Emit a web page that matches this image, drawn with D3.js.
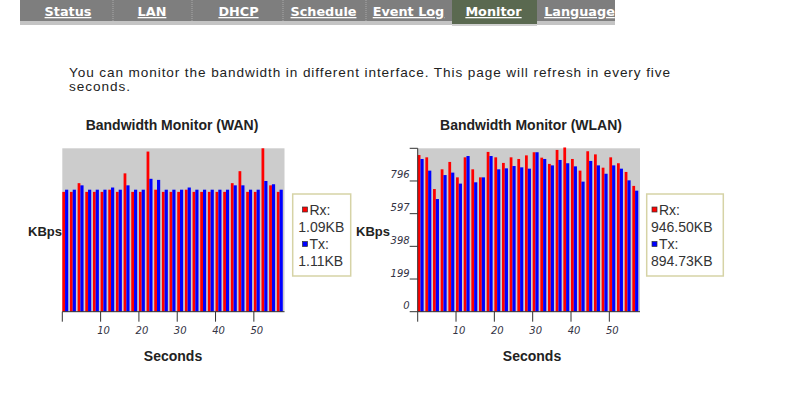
<!DOCTYPE html>
<html><head><meta charset="utf-8">
<script src="https://cdn.jsdelivr.net/npm/d3@7/dist/d3.min.js"></script>
<style>
html,body{margin:0;padding:0;background:#fff;}
svg{display:block;}
</style></head>
<body>
<svg id="c" width="785" height="393"></svg>
<script>
// ---- data ----
const navItems = ["Status","LAN","DHCP","Schedule","Event Log","Monitor","Language"];
const introText = ["You can monitor the bandwidth in different interface. This page will refresh in every five","seconds."];
const seconds = [0,2,4,6,8,10,12,14,16,18,20,22,24,26,28,30,32,34,36,38,40,42,44,46,48,50,52,54,56];
const wanRx = [1.10,1.10,1.18,1.10,1.10,1.10,1.12,1.10,1.27,1.10,1.10,1.47,1.12,1.10,1.10,1.10,1.12,1.10,1.10,1.10,1.10,1.10,1.18,1.29,1.10,1.10,1.50,1.16,1.10];
const wanTx = [1.12,1.12,1.16,1.12,1.12,1.12,1.14,1.12,1.16,1.12,1.12,1.22,1.21,1.12,1.12,1.12,1.14,1.12,1.12,1.12,1.12,1.12,1.16,1.16,1.12,1.12,1.20,1.17,1.12];
const wlanRx = [954,940,747,867,912,818,940,867,818,973,940,906,940,930,952,971,938,900,985,1000,930,859,977,958,877,940,904,851,766];
const wlanTx = [930,859,686,832,847,780,948,788,818,948,867,873,887,879,871,971,930,891,924,904,885,792,918,891,840,891,871,800,737];
const xTicks = [0,10,20,30,40,50];
const xTickLabels = ["","10","20","30","40","50"];
const wlanYTicks = [0,199,398,597,796,995];
const wlanYTickLabels = ["0","199","398","597","796",""];
const wanLegend = {rx:"1.09KB", tx:"1.11KB"};
const wlanLegend = {rx:"946.50KB", tx:"894.73KB"};

const svg = d3.select("#c");
const F = "'Liberation Sans', Arial, sans-serif";

// ---- nav bar ----
const navCenters = [68,152,238.5,323.5,408.5,493.5,579.5];
const navSeps = [113,192,283,366];
svg.append("rect").attr("x",20).attr("y",0).attr("width",595).attr("height",21).attr("fill","#7e7e7e");
svg.append("rect").attr("x",20).attr("y",21).attr("width",595).attr("height",4).attr("fill","#c4c4c4");
svg.append("rect").attr("x",452).attr("y",0).attr("width",85).attr("height",24).attr("fill","#5a6950");
svg.append("rect").attr("x",452).attr("y",24).attr("width",85).attr("height",2).attr("fill","#d0d0d0");
navSeps.forEach(x=>svg.append("line").attr("x1",x).attr("x2",x).attr("y1",0).attr("y2",21)
  .attr("stroke","#a8a8a8").attr("stroke-dasharray","1,1"));
navItems.forEach((t,i)=>{
  svg.append("text").attr("x",navCenters[i]).attr("y",16).attr("text-anchor","middle")
    .attr("font-family","'DejaVu Sans', Verdana, sans-serif").attr("font-weight","bold")
    .attr("font-size","12.8px").attr("fill","#fff").attr("text-decoration","underline").text(t);
});

// ---- intro text ----
const introWidths = [601, 61];
introText.forEach((t,i)=>{
  svg.append("text").attr("x",69).attr("y",76.5+i*14.5).attr("font-family",F)
    .attr("font-size","13.6px").attr("fill","#222")
    .attr("textLength",introWidths[i]).attr("lengthAdjust","spacing").text(t);
});

function chart(opt){
  const x = d3.scaleLinear().domain([0,58]).range([opt.x0, opt.x1]);
  const y = d3.scaleLinear().domain([0,opt.yMax]).range([311.7,148.3]);
  const g = svg.append("g");
  g.append("rect").attr("x",x(0)).attr("y",y(opt.yMax)).attr("width",x(58)-x(0))
    .attr("height",y(0)-y(opt.yMax)).attr("fill","#cccccc");
  const bw = 0.72, bw2 = 0.83;
  g.selectAll(".rx").data(seconds).enter().append("rect")
    .attr("x",d=>x(d)).attr("width",x(bw)-x(0))
    .attr("y",(d,i)=>y(opt.rx[i])).attr("height",(d,i)=>y(0)-y(opt.rx[i])).attr("fill","#ff0000");
  g.selectAll(".tx").data(seconds).enter().append("rect")
    .attr("x",d=>x(d+bw)).attr("width",x(bw2)-x(0))
    .attr("y",(d,i)=>y(opt.tx[i])).attr("height",(d,i)=>y(0)-y(opt.tx[i])).attr("fill","#0000ff");
  // x axis
  g.append("line").attr("x1",x(0)).attr("x2",x(58)).attr("y1",y(0)).attr("y2",y(0)).attr("stroke","#333");
  xTicks.forEach((t,i)=>{
    g.append("line").attr("x1",x(t)).attr("x2",x(t)).attr("y1",y(0)).attr("y2",y(0)+10).attr("stroke","#333");
    g.append("text").attr("x",x(t)+3).attr("y",334).attr("text-anchor","middle")
      .attr("font-family","'DejaVu Sans', Verdana, sans-serif").attr("font-style","italic")
      .attr("font-size","10px").attr("fill","#334").text(xTickLabels[i]);
  });
  if(opt.yTicks){
    g.append("line").attr("x1",x(0)).attr("x2",x(0)).attr("y1",y(opt.yMax)).attr("y2",y(0)).attr("stroke","#333");
    opt.yTicks.forEach((t,i)=>{
      g.append("line").attr("x1",x(0)-8).attr("x2",x(0)).attr("y1",y(t)).attr("y2",y(t)).attr("stroke","#333");
      g.append("text").attr("x",x(0)-8).attr("y",y(t)-2.5).attr("text-anchor","end")
        .attr("font-family","'DejaVu Sans', Verdana, sans-serif").attr("font-style","italic")
        .attr("font-size","10px").attr("fill","#334").text(opt.yTickLabels[i]);
    });
  }
  // titles
  g.append("text").attr("x",opt.titleX).attr("y",129.5).attr("text-anchor","middle")
    .attr("font-family",F).attr("font-weight","bold").attr("font-size","14px").attr("fill","#222").text(opt.title);
  g.append("text").attr("x",opt.titleX+1).attr("y",361).attr("text-anchor","middle")
    .attr("font-family",F).attr("font-weight","bold").attr("font-size","14px").attr("fill","#222").text("Seconds");
  g.append("text").attr("x",opt.kbpsX).attr("y",236).attr("text-anchor","end")
    .attr("font-family",F).attr("font-weight","bold").attr("font-size","13px").attr("fill","#222").text("KBps");
  // legend
  const L = opt.leg;
  g.append("rect").attr("x",L.x).attr("y",194).attr("width",L.w).attr("height",82)
    .attr("fill","#fff").attr("stroke","#d6d3a6").attr("stroke-width",1.5);
  [["#ff0000","Rx:",L.rx],["#0000ff","Tx:",L.tx]].forEach((r,i)=>{
    const yy = 209.5 + i*34.5;
    g.append("rect").attr("x",L.sq).attr("y",yy-2.5).attr("width",5).attr("height",5)
      .attr("fill",r[0]).attr("stroke","#333").attr("stroke-width",0.7);
    g.append("text").attr("x",L.sq+7).attr("y",yy+5).attr("font-family",F).attr("font-size","14px")
      .attr("fill","#333").text(r[1]);
    g.append("text").attr("x",L.vx).attr("y",yy+22).attr("font-family",F).attr("font-size","14px")
      .attr("fill","#333").text(r[2]);
  });
}

chart({x0:62.3,x1:284.5,yMax:1.5,rx:wanRx,tx:wanTx,title:"Bandwidth Monitor (WAN)",titleX:172,kbpsX:62,
  leg:{x:292.7,w:58,sq:302.5,vx:298.3,rx:wanLegend.rx,tx:wanLegend.tx}});
chart({x0:417.7,x1:640,yMax:995,rx:wlanRx,tx:wlanTx,title:"Bandwidth Monitor (WLAN)",titleX:531,kbpsX:390,
  yTicks:wlanYTicks,yTickLabels:wlanYTickLabels,
  leg:{x:646.7,w:76.6,sq:652,vx:651,rx:wlanLegend.rx,tx:wlanLegend.tx}});
</script>
</body></html>
